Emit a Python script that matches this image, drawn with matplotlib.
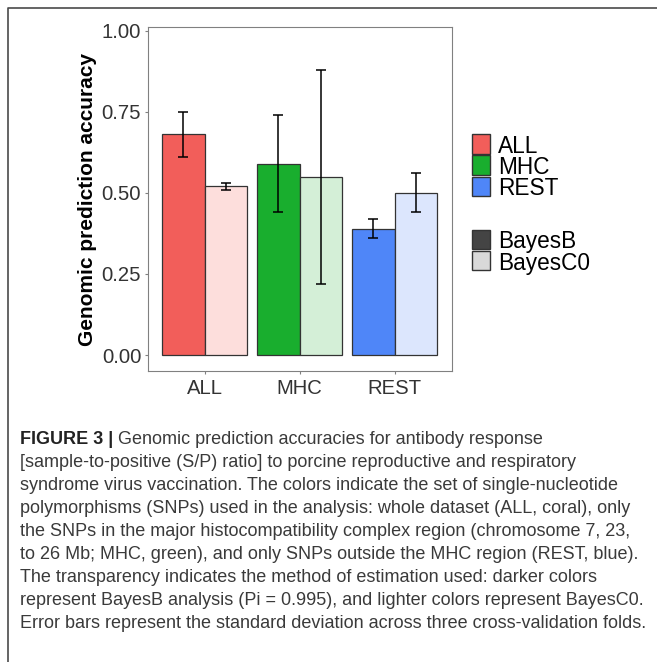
import matplotlib
matplotlib.use("Agg")
import matplotlib.pyplot as plt
import numpy as np
from matplotlib import font_manager
from matplotlib.patches import Rectangle
from matplotlib.lines import Line2D

# data
snp_sets = ["ALL", "MHC", "REST"]
methods = ["BayesB", "BayesC0"]
bayesb_acc = [0.68, 0.59, 0.39]
bayesb_sd = [0.07, 0.15, 0.03]
bayesc0_acc = [0.52, 0.55, 0.50]
bayesc0_sd = [0.01, 0.33, 0.06]
y_ticks = [0.0, 0.25, 0.5, 0.75, 1.0]

dark_colors = ["#F25E5A", "#19AE2E", "#4F86F8"]
light_colors = ["#FDDEDC", "#D4EFD7", "#DCE6FD"]
method_colors = ["#444444", "#D9D9D9"]

caption_bold = "FIGURE 3 | "
caption_lines = [
    "Genomic prediction accuracies for antibody response",
    "[sample-to-positive (S/P) ratio] to porcine reproductive and respiratory",
    "syndrome virus vaccination. The colors indicate the set of single-nucleotide",
    "polymorphisms (SNPs) used in the analysis: whole dataset (ALL, coral), only",
    "the SNPs in the major histocompatibility complex region (chromosome 7, 23,",
    "to 26 Mb; MHC, green), and only SNPs outside the MHC region (REST, blue).",
    "The transparency indicates the method of estimation used: darker colors",
    "represent BayesB analysis (Pi = 0.995), and lighter colors represent BayesC0.",
    "Error bars represent the standard deviation across three cross-validation folds.",
]

W, H = 657, 662
fig = plt.figure(figsize=(W / 100, H / 100), dpi=100)
plt.rcParams["font.family"] = ["Liberation Sans", "DejaVu Sans"]


def fx(px):
    return px / W


def fy(py):
    return 1 - py / H


installed = {f.name for f in font_manager.fontManager.ttflist}
cap_font = "Liberation Sans Narrow" if "Liberation Sans Narrow" in installed else "Liberation Sans"

# outer frame (only top and left edges show)
fig.add_artist(Line2D([fx(8), fx(8), 1], [0, fy(8), fy(8)], color="#4a4a4a", lw=1.2,
                      transform=fig.transFigure))

ax = fig.add_axes([fx(147.7), fy(370.7), (451.7 - 147.7) / W, (370.7 - 27.3) / H])
x = np.arange(1, len(snp_sets) + 1)
bw = 0.45
err = dict(elinewidth=1.1, capthick=1.1, ecolor="black")
ax.bar(x - bw / 2, bayesb_acc, bw, color=dark_colors, edgecolor="#333333", lw=0.9,
       yerr=bayesb_sd, capsize=3.6, error_kw=err)
ax.bar(x + bw / 2, bayesc0_acc, bw, color=light_colors, edgecolor="#333333", lw=0.9,
       yerr=bayesc0_sd, capsize=3.6, error_kw=err)
ax.set_xlim(0.4, 3.6)
ax.set_ylim(-0.0484, 1.0105)
ax.set_xticks(x, snp_sets)
ax.set_yticks(y_ticks, [f"{v:.2f}" for v in y_ticks])
for s in ax.spines.values():
    s.set_color("#808080")
    s.set_linewidth(0.8)
ax.tick_params(colors="#808080", length=2.5, width=0.8, labelsize=14.6, pad=2.2,
               labelcolor="#333333")
ax.tick_params(axis="x", pad=3.5)

fig.text(fx(88), fy(200), "Genomic prediction accuracy", rotation=90, fontsize=15,
         fontweight="bold", ha="center", va="center", color="black")

# legends, drawn by hand so the rows sit as tight as in the original
key_w, key_h = 18.5, 19.5
set_rows = [134, 155.3, 176.6]
method_rows = [229.5, 250.8]
for label, col, top in zip(snp_sets, dark_colors, set_rows):
    fig.add_artist(Rectangle((fx(471.7), fy(top + key_h)), key_w / W, key_h / H,
                             facecolor=col, edgecolor="#333333", lw=1.0,
                             transform=fig.transFigure))
    fig.text(fx(498), fy(top + key_h / 2), label, fontsize=16.3, va="center_baseline",
             ha="left", color="black")
for label, col, top in zip(methods, method_colors, method_rows):
    fig.add_artist(Rectangle((fx(471.7), fy(top + key_h)), key_w / W, key_h / H,
                             facecolor=col, edgecolor="#333333", lw=1.0,
                             transform=fig.transFigure))
    fig.text(fx(498), fy(top + key_h / 2), label, fontsize=16.3, va="center_baseline",
             ha="left", color="black")

# caption, font size fitted to the widest line
fig.canvas.draw()
rend = fig.canvas.get_renderer()
probe = fig.text(0, 0, caption_lines[-1], fontsize=10, family=cap_font)
cap_size = 10 * (647 - 20) / probe.get_window_extent(rend).width
probe.remove()

x0 = 20
line_y = [437 + i * 23.1 for i in range(len(caption_lines))]
bold = fig.text(fx(x0), fy(line_y[0]), caption_bold, fontsize=cap_size, family=cap_font,
                fontweight="bold", va="center_baseline", color="#222222")
bw_px = bold.get_window_extent(rend).width
for i, (line, yy) in enumerate(zip(caption_lines, line_y)):
    xs = x0 + bw_px if i == 0 else x0
    fig.text(fx(xs), fy(yy), line, fontsize=cap_size, family=cap_font,
             va="center_baseline", color="#3a3a3a")

fig.savefig("out.png", dpi=100)
